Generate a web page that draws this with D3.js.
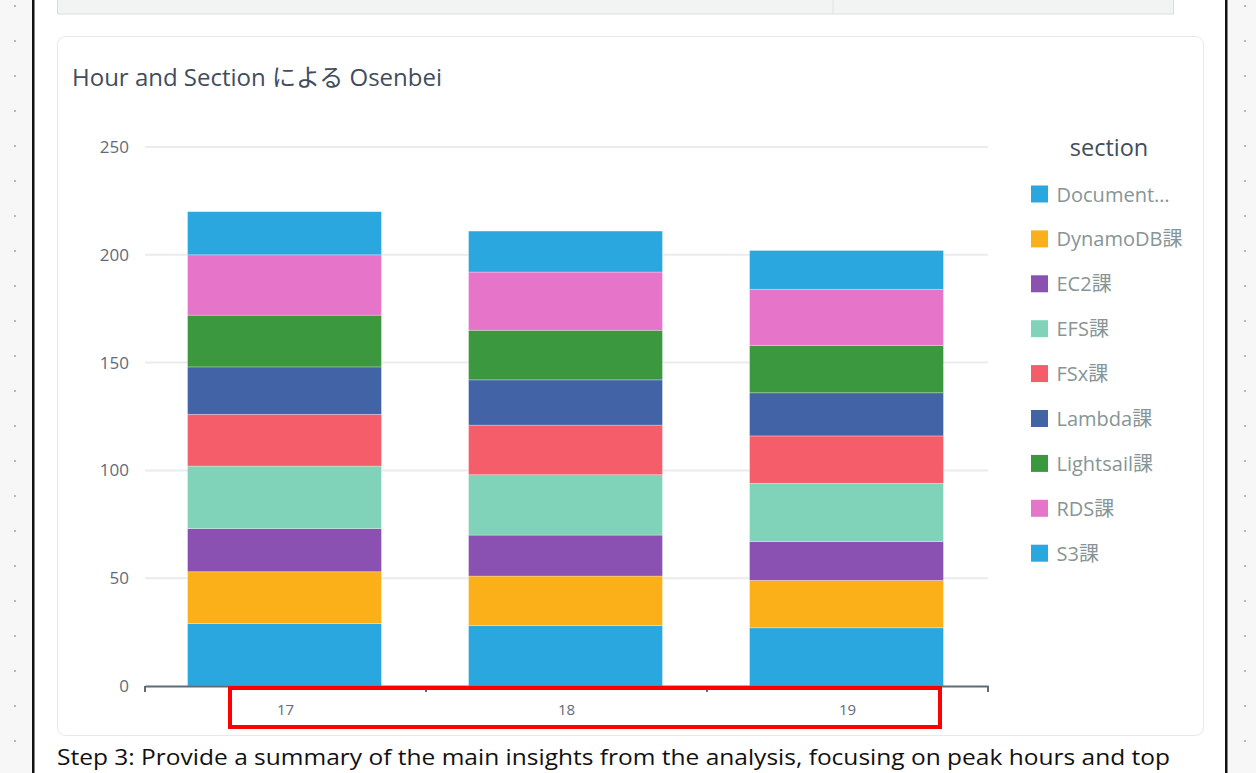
<!DOCTYPE html>
<html><head><meta charset="utf-8">
<script src="https://cdn.jsdelivr.net/npm/d3@7"></script>
<style>
html,body{margin:0;padding:0;background:#fff;overflow:hidden}
svg{display:block}
text{font-family:"Open Sans","Noto Sans CJK JP",sans-serif}
</style></head>
<body>
<svg id="c" width="1256" height="773"></svg>
<script>
const hours = ["17","18","19"];
const sections = ["Document…","DynamoDB課","EC2課","EFS課","FSx課","Lambda課","Lightsail課","RDS課","S3課"];
const sectionColors = ["#29a7de","#fbb01a","#8a50b2","#80d3b8","#f55d6b","#4263a5","#3c983e","#e674c8","#29a7de"];
const docVals       = [29,28,27];
const dynamoVals    = [24,23,22];
const ec2Vals       = [20,19,18];
const efsVals       = [29,28,27];
const fsxVals       = [24,23,22];
const lambdaVals    = [22,21,20];
const lightsailVals = [24,23,22];
const rdsVals       = [28,27,26];
const s3Vals        = [20,19,18];
const yTicks = [0,50,100,150,200,250];
const titleText = "Hour and Section による Osenbei";
const legendTitle = "section";
const footText = "Step 3: Provide a summary of the main insights from the analysis, focusing on peak hours and top";

const seriesVals = [docVals,dynamoVals,ec2Vals,efsVals,fsxVals,lambdaVals,lightsailVals,rdsVals,s3Vals];
const rows = hours.map((h,i)=>{const r={hour:h}; sections.forEach((s,j)=>r[s]=seriesVals[j][i]); return r;});

const svg = d3.select("#c");

// page background / frame
svg.append("rect").attr("x",0).attr("y",0).attr("width",1256).attr("height",773).attr("fill","#f7f7f7");
svg.append("rect").attr("x",33).attr("y",0).attr("width",1193).attr("height",773).attr("fill","#fff");
svg.append("rect").attr("x",32).attr("y",0).attr("width",2.5).attr("height",773).attr("fill","#111");
svg.append("rect").attr("x",1225).attr("y",0).attr("width",2.5).attr("height",773).attr("fill","#111");
for(let y=5;y<773;y+=35){
  svg.append("rect").attr("x",14).attr("y",y).attr("width",2).attr("height",2).attr("fill","#b9b9b9");
  svg.append("rect").attr("x",1244).attr("y",y).attr("width",2).attr("height",2).attr("fill","#b9b9b9");
}
// top gray box
svg.append("rect").attr("x",57.5).attr("y",-10).attr("width",1116).attr("height",24).attr("fill","#f2f3f3").attr("stroke","#dcdcdc");
svg.append("line").attr("x1",833).attr("x2",833).attr("y1",0).attr("y2",14).attr("stroke","#e2e2e2");

// card
svg.append("rect").attr("x",57.5).attr("y",36.5).attr("width",1146).attr("height",699).attr("rx",8)
  .attr("fill","#fff").attr("stroke","#e6e8ea");

svg.append("text").attr("x",72).attr("y",86).attr("font-size",23.5).attr("fill","#414d5c")
  .attr("textLength",370).attr("lengthAdjust","spacingAndGlyphs").text(titleText);

// scales
const x = d3.scaleBand().domain(hours).range([145,988]).padding(0);
const y = d3.scaleLinear().domain([0,250]).range([686,147]);
const color = d3.scaleOrdinal().domain(sections).range(sectionColors);

// grid
svg.append("g").selectAll("line").data(yTicks.filter(d=>d>0)).join("line")
  .attr("x1",145).attr("x2",988).attr("y1",d=>y(d)).attr("y2",d=>y(d))
  .attr("stroke","#e9ebed").attr("stroke-width",2);

// y labels
const yAxis = svg.append("g").attr("transform","translate(145,0)")
  .call(d3.axisLeft(y).tickValues(yTicks).tickSize(0).tickPadding(16));
yAxis.select(".domain").remove();
yAxis.selectAll("text").attr("font-size",17).attr("fill","#5f6b7a").attr("font-family","'Open Sans',sans-serif");

// bars
const stack = d3.stack().keys(sections)(rows);
const bw = x.bandwidth()*0.69;
svg.append("g").selectAll("g").data(stack).join("g").attr("fill",d=>color(d.key))
  .selectAll("rect").data(d=>d).join("rect")
  .attr("x",d=>x(d.data.hour)+x.bandwidth()/2-bw/2 - 1)
  .attr("width",bw)
  .attr("y",d=>y(d[1]))
  .attr("height",d=>y(d[0])-y(d[1]))
  .attr("stroke","rgba(255,255,255,0.35)").attr("stroke-width",0.8);

// x axis
const xAxis = svg.append("g").attr("transform","translate(0,686)")
  .call(d3.axisBottom(x).tickSize(0).tickPadding(18));
xAxis.select(".domain").attr("stroke","#5f6b7a").attr("stroke-width",2);
xAxis.selectAll("text").attr("font-size",15).attr("dy","0.71em").attr("fill","#5f6b7a").attr("font-family","'Open Sans',sans-serif");
const bounds = [x.range()[0], ...hours.map(h=>x(h)+x.bandwidth())];
svg.append("g").selectAll("line").data(bounds).join("line")
  .attr("x1",d=>d).attr("x2",d=>d).attr("y1",686).attr("y2",692)
  .attr("stroke","#5f6b7a").attr("stroke-width",2);

// legend
svg.append("text").attr("x",1109).attr("y",156).attr("text-anchor","middle").attr("font-size",23.5)
  .attr("fill","#414d5c").text(legendTitle);
const lg = svg.append("g").selectAll("g").data(sections).join("g")
  .attr("transform",(d,i)=>`translate(1031,${194+i*44.9})`);
lg.append("rect").attr("x",0).attr("y",-8.5).attr("width",17).attr("height",17).attr("fill",d=>color(d));
lg.append("text").attr("x",25.5).attr("y",7.5).attr("font-size",20).attr("fill","#879596").text(d=>d);

// highlight box
svg.append("rect").attr("x",230).attr("y",688).attr("width",710).attr("height",39)
  .attr("fill","none").attr("stroke","#ff0000").attr("stroke-width",4);

// footer text
svg.append("text").attr("x",57).attr("y",765).attr("font-size",22).attr("fill","#111")
  .attr("font-family","'Liberation Sans Narrow','Liberation Sans',sans-serif")
  .attr("textLength",1113).attr("lengthAdjust","spacingAndGlyphs").text(footText);
</script>
</body></html>
